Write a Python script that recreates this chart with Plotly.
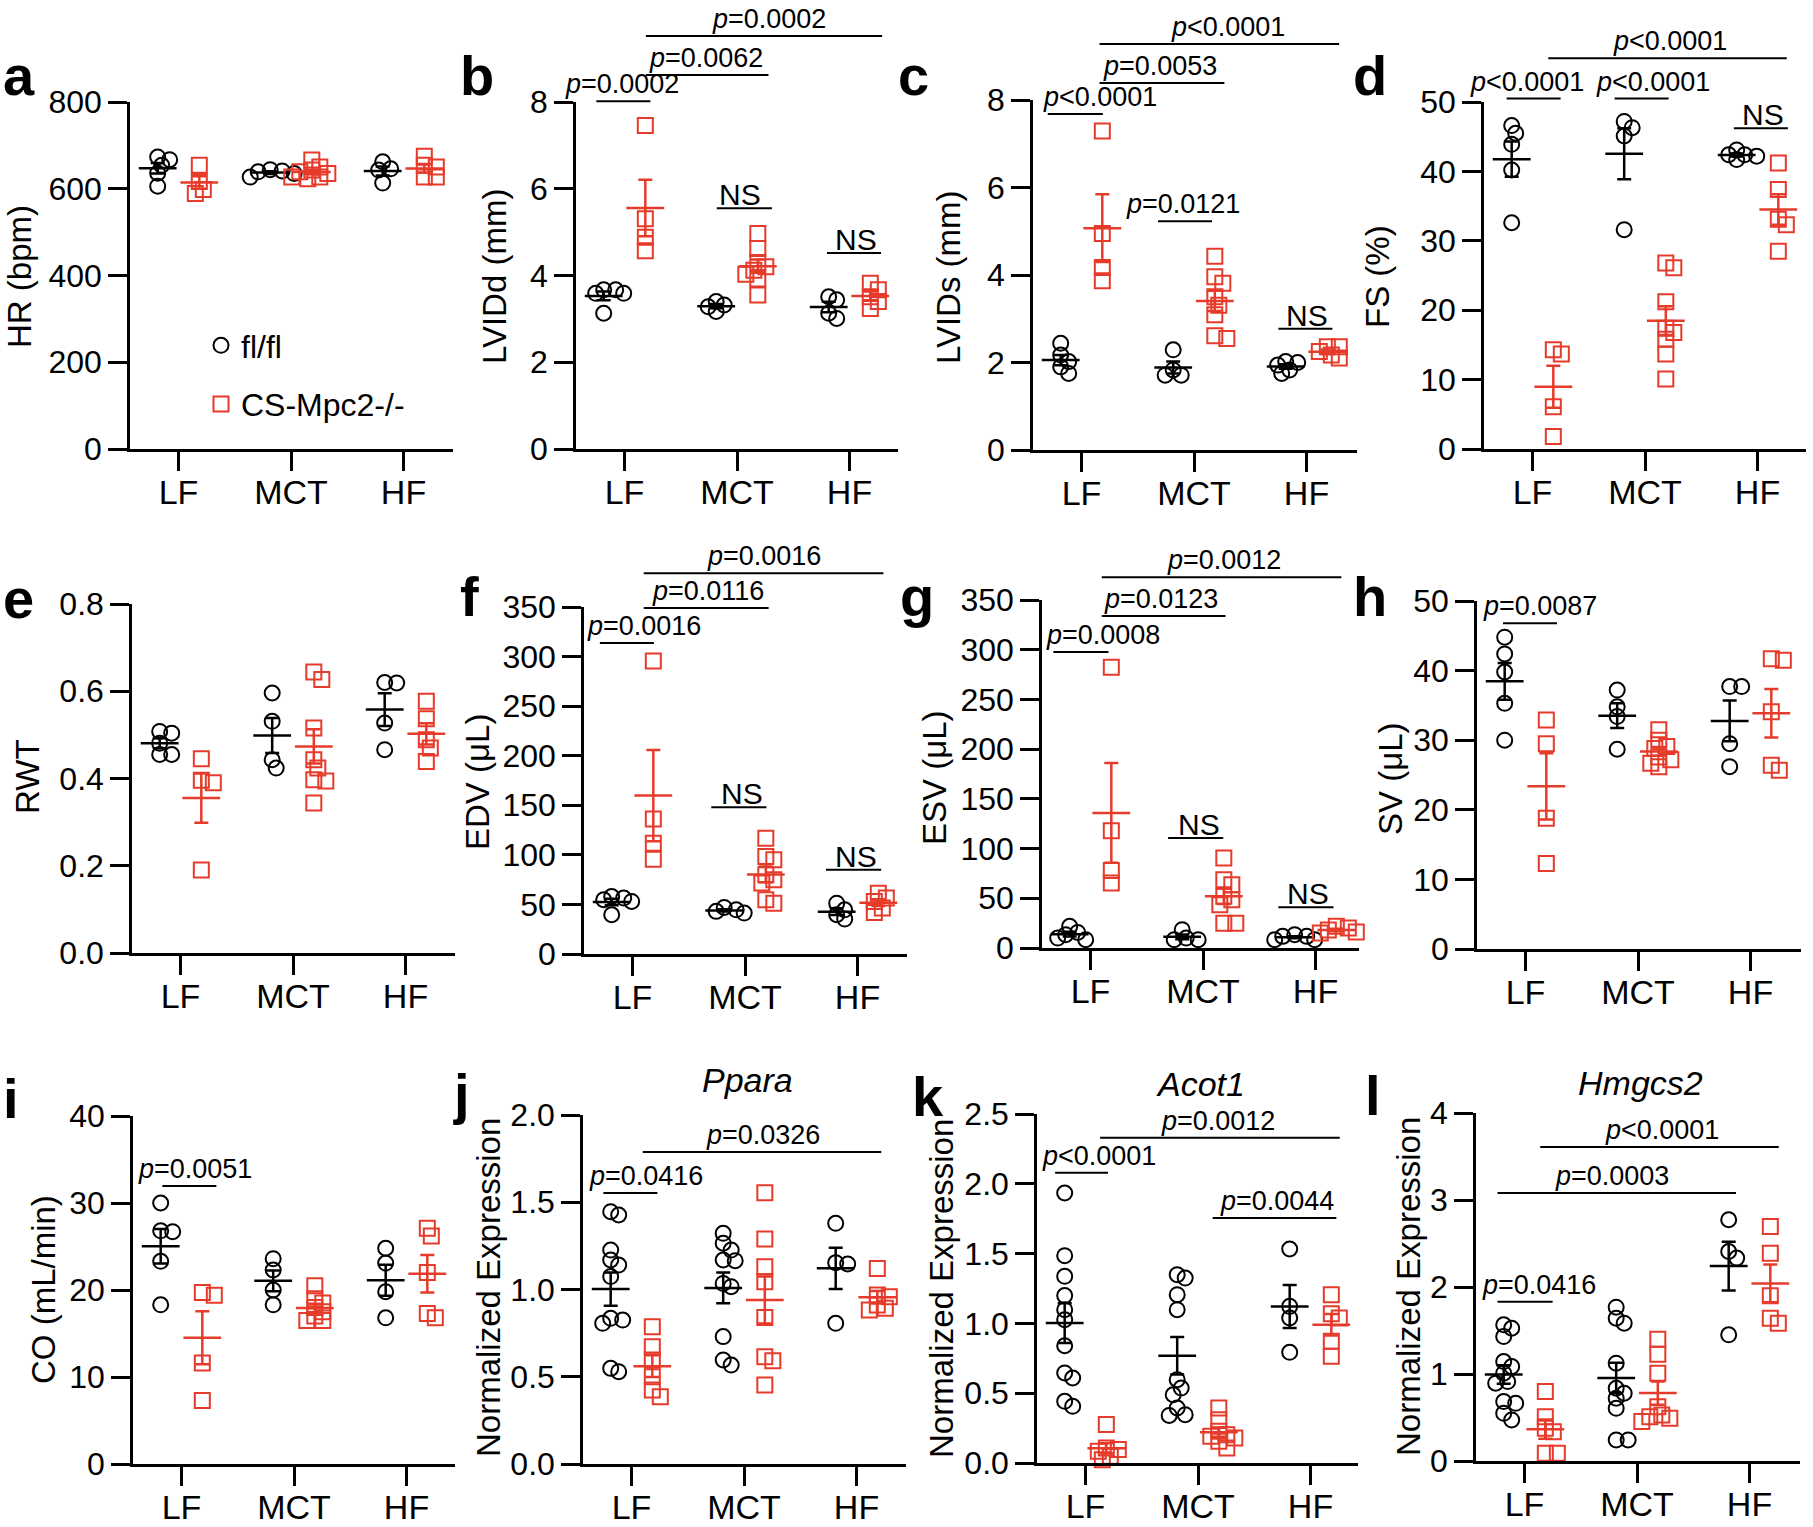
import numpy as np
import plotly.graph_objects as go

# ---------------- data ----------------
categories = ["LF", "MCT", "HF"]
genotypes = ["fl/fl", "CS-Mpc2-/-"]

hr_fl = [[667, 673, 654, 636, 606], [644, 639, 627, 635, 641], [662, 646, 643, 613]]
hr_ko = [[654, 617, 598, 589], [666, 650, 643, 627, 623, 635, 627, 639], [675, 654, 650, 627, 627]]

lvidd_fl = [[3.59, 3.67, 3.67, 3.59, 3.13], [3.17, 3.32, 3.40, 3.28], [3.44, 3.51, 3.01, 3.13]]
lvidd_ko = [[7.46, 5.31, 4.88, 4.57], [4.97, 4.62, 4.30, 4.12, 4.03, 3.92, 3.55, 4.20], [3.82, 3.67, 3.51, 3.24, 3.40]]

lvids_fl = [[2.44, 2.17, 2.02, 1.90, 1.75], [2.29, 1.83, 1.71, 1.71], [2.02, 1.94, 1.83, 1.75, 2.00]]
lvids_ko = [[7.29, 4.95, 4.17, 3.87], [4.43, 3.96, 3.81, 3.50, 3.31, 3.09, 2.55, 2.61], [2.36, 2.36, 2.25, 2.17, 2.10]]

fs_fl = [[46.6, 45.5, 43.9, 40.2, 32.6], [47.2, 46.3, 45.1, 31.6], [41.7, 43.1, 42.4, 42.4, 42.2]]
fs_ko = [[14.3, 13.7, 6.1, 1.8], [26.8, 26.1, 21.2, 17.4, 16.8, 15.8, 13.7, 10.1], [41.2, 37.4, 33.1, 32.3, 28.5]]

rwt_fl = [[0.508, 0.504, 0.481, 0.455, 0.455], [0.596, 0.531, 0.443, 0.424], [0.619, 0.620, 0.527, 0.466]]
rwt_ko = [[0.445, 0.396, 0.390, 0.19], [0.644, 0.627, 0.516, 0.443, 0.424, 0.397, 0.394, 0.344], [0.577, 0.537, 0.489, 0.470, 0.439]]

edv_fl = [[56.4, 58, 53, 54.7, 39.6], [41.3, 44.6, 47, 43], [51.3, 44.6, 39.6, 35.2]]
edv_ko = [[295.6, 136.2, 111.7, 95.6], [116.8, 98.3, 95, 79.9, 74.8, 71.5, 54.7, 51.3], [61.4, 56.4, 53, 46.3, 41.9]]

esv_fl = [[21.8, 15.7, 10, 8.4, 13.4], [18.4, 8.4, 8.4, 10], [11.7, 13.4, 11.7, 8.4, 8.4]]
esv_ko = [[282.3, 117.9, 78, 65.3], [90.4, 68.7, 63.6, 52, 48.6, 43.5, 25, 25], [20, 18, 16, 22, 15]]

sv_fl = [[44.8, 42.4, 39.8, 35.3, 30.0], [37.2, 34.8, 33.4, 28.7], [37.7, 37.7, 29.5, 26.2]]
sv_ko = [[32.9, 29.5, 18.8, 12.3], [31.5, 30.0, 29.1, 28.8, 27.6, 26.7, 26.2, 27.2], [41.7, 41.5, 34.1, 26.4, 25.7]]

co_fl = [[30.0, 26.7, 26.8, 23.3, 18.3], [23.6, 22.3, 20.0, 18.3], [24.8, 23.1, 19.8, 16.8]]
co_ko = [[19.4, 19.7, 11.6, 7.3], [20.5, 19.0, 18.5, 18.0, 17.5, 17.0, 16.5, 16.5], [27.1, 26.2, 22.0, 17.3, 16.8]]

ppara_fl = [[1.427, 1.446, 1.226, 1.169, 1.140, 1.074, 0.825, 0.806, 0.835, 0.529, 0.548],
            [1.322, 1.265, 1.226, 1.165, 1.169, 1.035, 1.016, 0.730, 0.596, 0.567],
            [1.379, 1.154, 1.146, 0.806]]
ppara_ko = [[0.787, 0.672, 0.596, 0.500, 0.424, 0.386],
            [1.555, 1.289, 1.131, 1.045, 0.839, 0.615, 0.592, 0.453],
            [1.121, 0.959, 0.968, 0.892, 0.911, 0.883]]

acot1_fl = [[1.934, 1.485, 1.337, 1.199, 1.098, 1.027, 0.840, 0.609, 0.645, 0.406, 0.442],
            [1.325, 1.349, 1.206, 1.098, 0.597, 0.537, 0.489, 0.394, 0.346, 0.341],
            [1.533, 1.122, 1.039, 0.793]]
acot1_ko = [[0.275, 0.096, 0.107, 0.084, 0.048, 0.024],
            [0.394, 0.310, 0.227, 0.179, 0.155, 0.107, 0.203, 0.191],
            [1.206, 1.070, 1.039, 0.872, 0.764]]

hmgcs2_fl = [[1.526, 1.565, 1.430, 1.143, 1.085, 1.009, 0.913, 0.894, 0.683, 0.663, 0.548, 0.472],
             [1.768, 1.641, 1.584, 1.124, 0.836, 0.779, 0.721, 0.606, 0.242, 0.242],
             [2.773, 2.408, 2.332, 1.450]]
hmgcs2_ko = [[0.798, 0.510, 0.376, 0.337, 0.088, 0.088],
             [1.400, 1.227, 1.009, 0.625, 0.510, 0.491, 0.453, 0.529],
             [2.696, 2.389, 1.898, 1.641, 1.584]]

# significance labels: (from category, to category, bracket height in data units, label, label centre)
sig_a = []
sig_b = [(-0.25, 0.23, 8.02, "<i>p</i>=0.0002", -0.02), (0.19, 1.28, 8.62, "<i>p</i>=0.0062", 0.72),
         (0.19, 2.29, 9.52, "<i>p</i>=0.0002", 1.28), (0.82, 1.31, 5.55, "NS", 1.03), (1.80, 2.28, 4.52, "NS", 2.06)]
sig_c = [(-0.30, 0.19, 7.68, "<i>p</i>&lt;0.0001", 0.16), (0.16, 1.27, 8.39, "<i>p</i>=0.0053", 0.70),
         (0.16, 2.29, 9.28, "<i>p</i>&lt;0.0001", 1.30), (0.68, 1.16, 5.23, "<i>p</i>=0.0121", 0.90),
         (1.75, 2.23, 2.77, "NS", 2.0)]
sig_d = [(-0.23, 0.25, 50.5, "<i>p</i>&lt;0.0001", -0.05), (0.73, 1.21, 50.5, "<i>p</i>&lt;0.0001", 1.07),
         (0.14, 2.26, 56.3, "<i>p</i>&lt;0.0001", 1.22), (1.79, 2.27, 46.2, "NS", 2.05)]
sig_e = []
sig_f = [(-0.29, 0.19, 313.8, "<i>p</i>=0.0016", 0.10), (0.10, 1.21, 349, "<i>p</i>=0.0116", 0.67),
         (0.10, 2.23, 384, "<i>p</i>=0.0016", 1.17), (0.70, 1.19, 148, "NS", 0.97), (1.72, 2.21, 85, "NS", 1.99)]
sig_g = [(-0.33, 0.16, 297.7, "<i>p</i>=0.0008", 0.11), (0.10, 1.20, 334, "<i>p</i>=0.0123", 0.63),
         (0.10, 2.23, 373, "<i>p</i>=0.0012", 1.19), (0.69, 1.18, 110.7, "NS", 0.96), (1.67, 2.16, 41, "NS", 1.93)]
sig_h = [(-0.20, 0.28, 46.8, "<i>p</i>=0.0087", 0.13)]
sig_i = [(-0.17, 0.31, 31.95, "<i>p</i>=0.0051", 0.12)]
sig_j = [(-0.25, 0.23, 1.553, "<i>p</i>=0.0416", 0.13), (0.10, 2.22, 1.788, "<i>p</i>=0.0326", 1.17)]
sig_k = [(-0.27, 0.20, 2.08, "<i>p</i>&lt;0.0001", 0.12), (0.13, 2.26, 2.33, "<i>p</i>=0.0012", 1.18),
         (1.13, 2.23, 1.755, "<i>p</i>=0.0044", 1.70)]
sig_l = [(-0.24, 0.25, 1.83, "<i>p</i>=0.0416", 0.13), (-0.24, 1.88, 3.08, "<i>p</i>=0.0003", 0.78),
         (0.14, 2.26, 3.61, "<i>p</i>&lt;0.0001", 1.22)]

# ---------------- panel layout ----------------
W, H = 1813, 1527
CAT_PX = 112.5
RED = "#E63B2A"
FONT = "Liberation Sans, Arial, sans-serif"

panels = [
    dict(letter="a", fl=hr_fl, ko=hr_ko, ylab="HR (bpm)", ymax=800, ticks=[0, 200, 400, 600, 800],
         tt=None, box=(130, 453, 102, 449), lab=(19, 277), let=(3, 97), sig=sig_a, gene=None),
    dict(letter="b", fl=lvidd_fl, ko=lvidd_ko, ylab="LVIDd (mm)", ymax=8, ticks=[0, 2, 4, 6, 8],
         tt=None, box=(576, 898, 102, 449), lab=(494, 277), let=(460, 97), sig=sig_b, gene=None),
    dict(letter="c", fl=lvids_fl, ko=lvids_ko, ylab="LVIDs (mm)", ymax=8, ticks=[0, 2, 4, 6, 8],
         tt=None, box=(1033, 1357, 100, 450), lab=(948, 277), let=(898, 97), sig=sig_c, gene=None),
    dict(letter="d", fl=fs_fl, ko=fs_ko, ylab="FS (%)", ymax=50, ticks=[0, 10, 20, 30, 40, 50],
         tt=None, box=(1484, 1806, 102, 449), lab=(1377, 277), let=(1353, 97), sig=sig_d, gene=None),
    dict(letter="e", fl=rwt_fl, ko=rwt_ko, ylab="RWT", ymax=0.8, ticks=[0, 0.2, 0.4, 0.6, 0.8],
         tt=["0.0", "0.2", "0.4", "0.6", "0.8"], box=(132, 455, 604, 953), lab=(27, 777), let=(3, 620), sig=sig_e, gene=None),
    dict(letter="f", fl=edv_fl, ko=edv_ko, ylab="EDV (μL)", ymax=350, ticks=list(range(0, 351, 50)),
         tt=None, box=(584, 907, 607, 954), lab=(477, 782), let=(460, 618), sig=sig_f, gene=None),
    dict(letter="g", fl=esv_fl, ko=esv_ko, ylab="ESV (μL)", ymax=350, ticks=list(range(0, 351, 50)),
         tt=None, box=(1042, 1359, 600, 948), lab=(934, 777), let=(900, 618), sig=sig_g, gene=None),
    dict(letter="h", fl=sv_fl, ko=sv_ko, ylab="SV (μL)", ymax=50, ticks=[0, 10, 20, 30, 40, 50],
         tt=None, box=(1477, 1801, 601, 949), lab=(1390, 779), let=(1353, 618), sig=sig_h, gene=None),
    dict(letter="i", fl=co_fl, ko=co_ko, ylab="CO (mL/min)", ymax=40, ticks=[0, 10, 20, 30, 40],
         tt=None, box=(133, 455, 1116, 1464), lab=(43, 1290), let=(3, 1120), sig=sig_i, gene=None),
    dict(letter="j", fl=ppara_fl, ko=ppara_ko, ylab="Normalized Expression", ymax=2.0, ticks=[0, 0.5, 1.0, 1.5, 2.0],
         tt=["0.0", "0.5", "1.0", "1.5", "2.0"], box=(583, 906, 1115, 1464), lab=(488, 1288), let=(453, 1115),
         sig=sig_j, gene=("Ppara", 747, 1092)),
    dict(letter="k", fl=acot1_fl, ko=acot1_ko, ylab="Normalized Expression", ymax=2.5, ticks=[0, 0.5, 1.0, 1.5, 2.0, 2.5],
         tt=["0.0", "0.5", "1.0", "1.5", "2.0", "2.5"], box=(1037, 1358, 1114, 1463), lab=(941, 1288), let=(912, 1118),
         sig=sig_k, gene=("Acot1", 1200, 1096)),
    dict(letter="l", fl=hmgcs2_fl, ko=hmgcs2_ko, ylab="Normalized Expression", ymax=4, ticks=[0, 1, 2, 3, 4],
         tt=None, box=(1476, 1800, 1113, 1461), lab=(1408, 1287), let=(1365, 1117), sig=sig_l, gene=("Hmgcs2", 1640, 1095)),
]


def swarm(vals, py, step=4.0, dmin=8.5):
    """Prism-like jitter: horizontal pixel offsets that limit marker overlap."""
    vals = np.asarray(vals, dtype=float)
    order = np.argsort(-vals)
    placed = []
    offs = np.zeros(len(vals))
    for i in order:
        ypx = vals[i] * py
        k = 0
        chosen = None
        while chosen is None:
            cands = [0.0] if k == 0 else [k * step, -k * step]
            for c in cands:
                if all((c - px) ** 2 + (ypx - qy) ** 2 >= dmin ** 2 for px, qy in placed):
                    chosen = c
                    break
            k += 1
        placed.append((chosen, ypx))
        offs[i] = chosen
    return offs


def ppx(v):  # pixel row -> paper y
    return 1 - v / H


fig = go.Figure()
layout = dict(width=W, height=H, margin=dict(l=0, r=0, t=0, b=0), paper_bgcolor="white",
              plot_bgcolor="white", template="none", font=dict(family=FONT, color="black"))
shapes, annotations = [], []
GROUP_OFF = 0.185

for n, p in enumerate(panels, start=1):
    sfx = "" if n == 1 else str(n)
    xid, yid = "x" + sfx, "y" + sfx
    x0, x1, yt, yb = p["box"]
    lo = -48.5 / CAT_PX
    hi = lo + (x1 - x0) / CAT_PX
    py = (yb - yt) / p["ymax"]

    layout["xaxis" + sfx] = dict(domain=[x0 / W, x1 / W], range=[lo, hi], anchor=yid,
                                tickvals=[0, 1, 2], ticktext=categories, ticks="outside", ticklen=19,
                                tickwidth=2.5, tickcolor="black", showline=True, linewidth=2.5,
                                linecolor="black", showgrid=False, zeroline=False,
                                ticklabelstandoff=-8,
                                tickfont=dict(size=34, color="black", family=FONT))
    ydict = dict(domain=[ppx(yb), ppx(yt)], range=[0, p["ymax"]], anchor=xid,
                 tickvals=p["ticks"], ticks="outside", ticklen=19, tickwidth=2.5, tickcolor="black",
                 showline=True, linewidth=2.5, linecolor="black", showgrid=False, zeroline=False,
                 tickfont=dict(size=32, color="black", family=FONT))
    if p["tt"] is not None:
        ydict["ticktext"] = p["tt"]
    layout["yaxis" + sfx] = ydict

    for gi, (key, color, sym, off) in enumerate([("fl", "black", "circle-open", -GROUP_OFF),
                                                 ("ko", RED, "square-open", GROUP_OFF)]):
        xs, ys, mx, my, me = [], [], [], [], []
        for ci, vals in enumerate(p[key]):
            offs = swarm(vals, py)
            xs += list(ci + off + offs / CAT_PX)
            ys += list(vals)
            arr = np.asarray(vals, dtype=float)
            mx.append(ci + off)
            my.append(arr.mean())
            me.append(arr.std(ddof=1) / np.sqrt(len(arr)))
        fig.add_trace(go.Scatter(x=xs, y=ys, mode="markers", xaxis=xid, yaxis=yid,
                                 marker=dict(symbol=sym, size=15, color=color, line=dict(width=2, color=color)),
                                 cliponaxis=False, name=genotypes[gi], legendgroup=key,
                                 showlegend=(n == 1)))
        fig.add_trace(go.Scatter(x=mx, y=my, mode="markers", xaxis=xid, yaxis=yid,
                                 marker=dict(symbol="line-ew", size=27, color=color,
                                             line=dict(width=2.5, color=color)),
                                 error_y=dict(type="data", array=me, visible=True, color=color,
                                              thickness=2.5, width=7),
                                 cliponaxis=False, showlegend=False))

    for (a, b, yv, txt, tx) in p["sig"]:
        yf = yv / p["ymax"]
        shapes.append(dict(type="line", xref=xid, yref=yid + " domain", x0=a, x1=b, y0=yf, y1=yf,
                           line=dict(color="black", width=2)))
        annotations.append(dict(xref=xid, yref=yid + " domain", x=tx, y=yf, text=txt, showarrow=False,
                                xanchor="center", yanchor="bottom", yshift=(-5 if txt == "NS" else 0),
                                font=dict(size=(30 if txt == "NS" else 27), family=FONT, color="black")))

    # y-axis title
    annotations.append(dict(xref="paper", yref="paper", x=p["lab"][0] / W, y=ppx(p["lab"][1]),
                            text=p["ylab"], textangle=-90, showarrow=False, xanchor="center",
                            yanchor="middle", font=dict(size=33, family=FONT, color="black")))
    # panel letter
    annotations.append(dict(xref="paper", yref="paper", x=max(p["let"][0] - 2, 0) / W, y=ppx(p["let"][1] + 12),
                            text="<b>%s</b>" % p["letter"], showarrow=False, xanchor="left",
                            yanchor="bottom", font=dict(size=56, family=FONT, color="black")))
    if p["gene"] is not None:
        g, gx, gy = p["gene"]
        annotations.append(dict(xref="paper", yref="paper", x=gx / W, y=ppx(gy + 9),
                                text="<i>%s</i>" % g, showarrow=False, xanchor="center",
                                yanchor="bottom", font=dict(size=34, family=FONT, color="black")))

layout["shapes"] = shapes
layout["annotations"] = annotations
layout["showlegend"] = True
layout["legend"] = dict(x=(221 - 20) / W, y=ppx(318), xanchor="left", yanchor="top",
                        bgcolor="rgba(0,0,0,0)", borderwidth=0, tracegroupgap=14,
                        font=dict(size=32, family=FONT, color="black"), itemsizing="trace")
fig.update_layout(**layout)
fig.write_html("out.html", config={"displayModeBar": False},
               post_script="document.body.style.margin='0';document.body.style.padding='0';")
